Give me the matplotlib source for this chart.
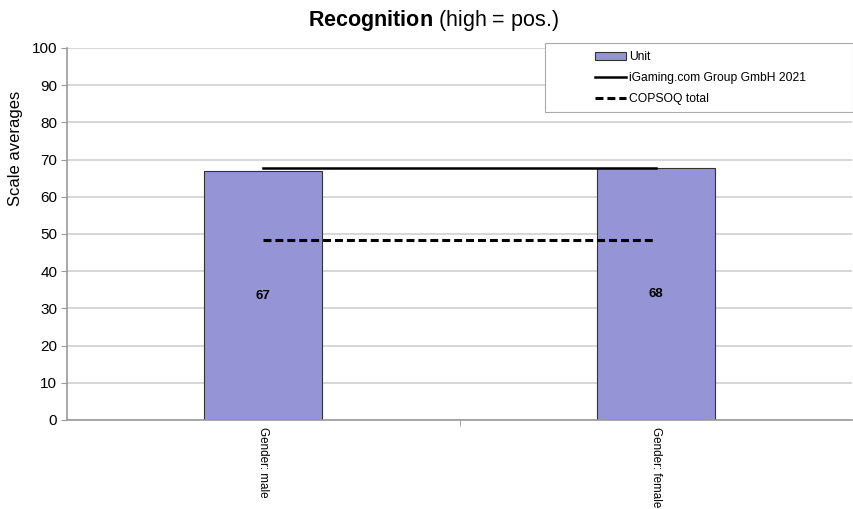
import matplotlib.pyplot as plt
from matplotlib.patches import Patch, Rectangle
from matplotlib.lines import Line2D

plt.rcParams['font.family'] = ['Liberation Sans', 'DejaVu Sans']
plt.rcParams['mathtext.fontset'] = 'custom'
plt.rcParams['mathtext.bf'] = 'Liberation Sans:bold'
plt.rcParams['mathtext.rm'] = 'Liberation Sans'

categories = ['Gender: male', 'Gender: female']
unit_values = [66.9, 67.7]
company_value = 67.7
copsoq_value = 48.4
yticks = [0, 10, 20, 30, 40, 50, 60, 70, 80, 90, 100]

fig = plt.figure(figsize=(8.54, 5.09), dpi=100)
ax = fig.add_axes([0.0785, 0.175, 0.9195, 0.7307])

x = list(range(len(categories)))
bars = ax.bar(x, unit_values, width=0.3, color='#9494d6', edgecolor='#333333',
              linewidth=0.8, zorder=2)
for xi, v in zip(x, unit_values):
    ax.text(xi, v / 2, f'{v:.0f}', ha='center', va='center', fontsize=9.5,
            fontweight='bold', zorder=4)

ax.plot(x, [company_value] * len(x), color='black', lw=1.8, zorder=3)
ax.plot(x, [copsoq_value] * len(x), color='black', lw=2.2,
        dashes=(2.6, 1.3), zorder=3)

ax.set_xlim(-0.5, len(categories) - 0.5)
ax.set_ylim(0, 100)
ax.set_yticks(yticks)
ax.set_xticks(x)
ax.set_xticklabels(categories, rotation=270, fontsize=8.4, va='top', ha='center')
ax.tick_params(axis='x', length=0, pad=5)
ax.set_xticks([0.5], minor=True)
ax.tick_params(axis='x', which='minor', length=4, color='#999999')
ax.tick_params(axis='y', length=4, color='#999999', labelsize=11, pad=3)
ax.yaxis.grid(True, color='#cccccc', lw=1.1, zorder=0)
ax.set_axisbelow(True)
for s in ['top', 'right']:
    ax.spines[s].set_visible(False)
for s in ['left', 'bottom']:
    ax.spines[s].set_color('#999999')
    ax.spines[s].set_linewidth(1.2)

ax.set_ylabel('Scale averages', fontsize=12)
ax.yaxis.set_label_coords(-0.056, 0.73)
fig.text(0.508, 0.96, r'$\bf{Recognition}$ (high = pos.)', ha='center',
         va='center', fontsize=15.5)

# legend box
fig.patches.append(Rectangle((545 / 854, 1 - 112 / 509), 308 / 854, 69 / 509,
                             transform=fig.transFigure, facecolor='white',
                             edgecolor='#aaaaaa', lw=0.8, zorder=5))
handles = [Patch(facecolor='#9494d6', edgecolor='#333333', lw=0.8),
           Line2D([], [], color='black', lw=1.8),
           Line2D([], [], color='black', lw=2.2, dashes=(2.6, 1.3))]
labels = ['Unit', 'iGaming.com Group GmbH 2021', 'COPSOQ total']
leg = fig.legend(handles, labels, loc='upper left',
                 bbox_to_anchor=(587 / 854, 1 - 43 / 509), frameon=False,
                 fontsize=8.7, handlelength=2.5, handleheight=0.6,
                 handletextpad=0.25, labelspacing=0.72, borderpad=0.2)
leg.set_zorder(6)

fig.savefig('out.png', dpi=100)
